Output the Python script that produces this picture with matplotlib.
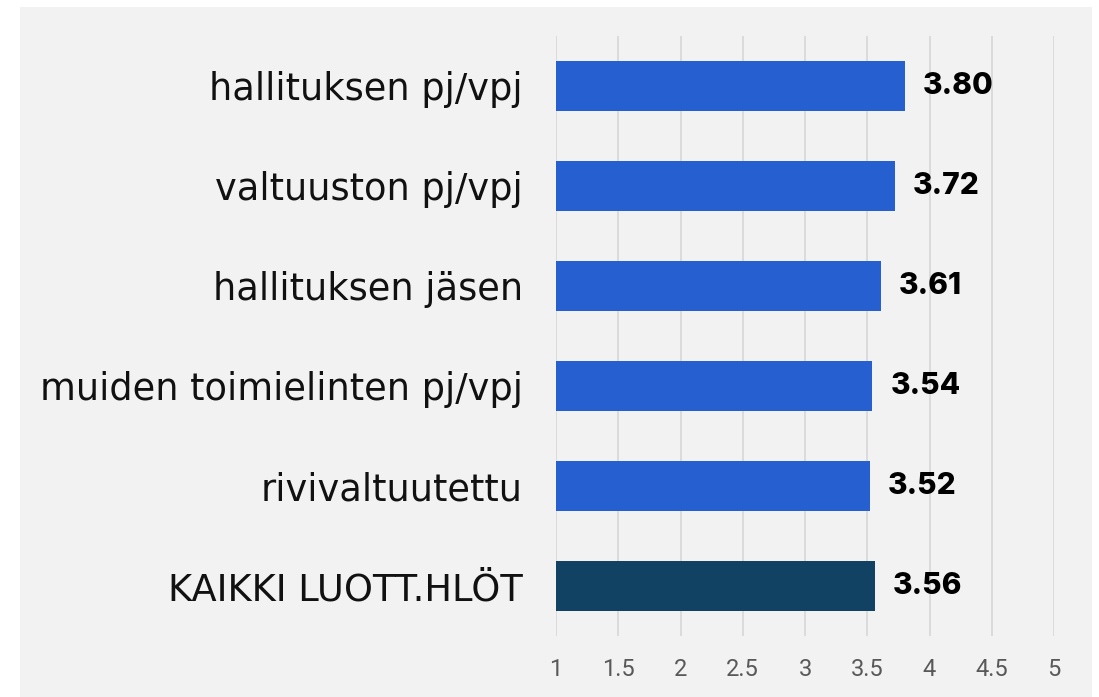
import matplotlib.pyplot as plt
from matplotlib.patches import Rectangle

categories = ['hallituksen pj/vpj', 'valtuuston pj/vpj', 'hallituksen jäsen',
              'muiden toimielinten pj/vpj', 'rivivaltuutettu', 'KAIKKI LUOTT.HLÖT']
values = [3.80, 3.72, 3.61, 3.54, 3.52, 3.56]
colors = ['#265fcf', '#265fcf', '#265fcf', '#265fcf', '#265fcf', '#124263']
ticks = [1, 1.5, 2, 2.5, 3, 3.5, 4, 4.5, 5]

W, H = 1099, 697
fig = plt.figure(figsize=(W / 100, H / 100), dpi=100)
fig.patch.set_facecolor('white')
# grey panel behind everything
fig.patches.append(Rectangle((20 / W, 0), (1092 - 20) / W, (H - 7) / H,
                             transform=fig.transFigure, facecolor='#f2f2f2',
                             edgecolor='none', zorder=-10))

ax = fig.add_axes([556 / W, (H - 636) / H, (1054 - 556) / W, 600 / H])
ax.set_facecolor('none')

y = list(range(len(categories)))
ax.barh(y, [v - 1 for v in values], left=1, height=0.5, color=colors, zorder=3)
for yi, v in zip(y, values):
    ax.annotate(f'{v:.2f}', (v, yi), xytext=(13, 0), textcoords='offset points',
                va='center', ha='left', fontsize=21.5, fontweight='heavy',
                family='Inter', color='black')

ax.set_xlim(1, 5)
ax.set_ylim(len(categories) - 0.5, -0.5)
ax.set_xticks(ticks)
ax.set_xticklabels([f'{t:g}' for t in ticks])
ax.set_yticks(y)
ax.set_yticklabels(categories)
ax.grid(axis='x', color='#d9d9d9', linewidth=1.3, zorder=0)
for s in ax.spines.values():
    s.set_visible(False)
ax.tick_params(axis='y', length=0, pad=24, labelsize=26.5, labelcolor='#111111')
ax.tick_params(axis='x', length=0, pad=16, labelsize=17, labelcolor='#595959')
for lab in ax.get_yticklabels():
    lab.set_family('DejaVu Sans')
for lab in ax.get_xticklabels():
    lab.set_family('Roboto')

fig.savefig('out.png', dpi=100)
